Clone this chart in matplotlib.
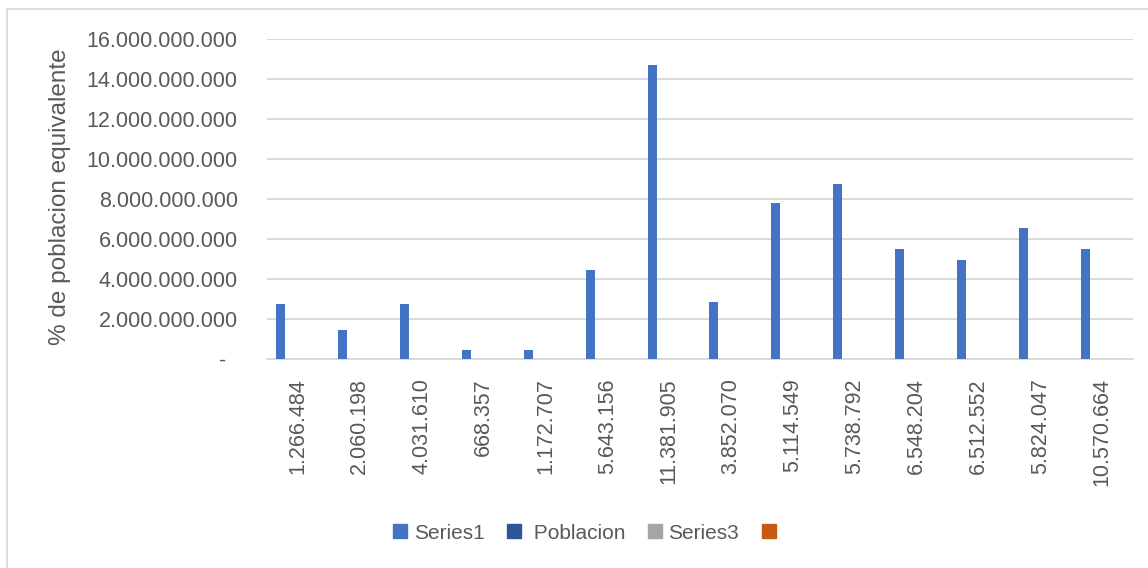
import matplotlib.pyplot as plt
import numpy as np
from matplotlib.patches import Patch, Rectangle
from matplotlib.ticker import FuncFormatter

# categorias del eje x (poblacion de cada region)
poblacion_labels = [
    "1.266.484", "2.060.198", "4.031.610", "668.357", "1.172.707",
    "5.643.156", "11.381.905", "3.852.070", "5.114.549", "5.738.792",
    "6.548.204", "6.512.552", "5.824.047", "10.570.664",
]
poblacion = [int(s.replace(".", "")) for s in poblacion_labels]

# Series1
series1 = [
    2.77e9, 1.45e9, 2.77e9, 0.43e9, 0.45e9,
    4.43e9, 14.71e9, 2.83e9, 7.82e9, 8.76e9,
    5.50e9, 4.97e9, 6.57e9, 5.48e9,
]

yticks = np.arange(0, 16e9 + 1, 2e9)

BLUE = "#4472C4"
DARK_BLUE = "#2F5597"
GRAY = "#A5A5A5"
ORANGE = "#C55A11"
TEXT = "#595959"
GRID = "#D9D9D9"

plt.rcParams["font.family"] = ["Liberation Sans", "DejaVu Sans"]

fig = plt.figure(figsize=(11.48, 5.68), dpi=100)
ax = fig.add_axes([0.2326, 0.368, 0.7544, 0.5633])

x = np.arange(len(poblacion_labels))
w = 0.145
ax.bar(x - 0.275, series1, width=w, color=BLUE, zorder=3)
ax.bar(x - 0.275 + w, poblacion, width=w, color=DARK_BLUE, zorder=3)

ax.set_xlim(-0.5, len(x) - 0.5)
ax.set_ylim(0, 16e9)
ax.set_yticks(yticks)
ax.yaxis.set_major_formatter(
    FuncFormatter(lambda v, p: "-  " if v == 0 else f"{v:,.0f}".replace(",", "."))
)
ax.set_xticks(x)
ax.set_xticklabels(poblacion_labels, rotation=90, va="top", ha="center")

ax.tick_params(axis="y", length=0, pad=21, labelsize=15.5, labelcolor=TEXT)
ax.tick_params(axis="x", length=0, pad=14, labelsize=15.5, labelcolor=TEXT)
ax.yaxis.grid(True, color=GRID, linewidth=1.4, zorder=0)
for side in ["top", "right", "left"]:
    ax.spines[side].set_visible(False)
ax.spines["bottom"].set_color(GRID)
ax.spines["bottom"].set_linewidth(1.4)

fig.text(0.052, 0.653, "% de poblacion equivalente", rotation=90,
         ha="center", va="center", fontsize=17.5, color=TEXT)

handles = [
    Patch(color=BLUE, label="Series1"),
    Patch(color=DARK_BLUE, label=" Poblacion"),
    Patch(color=GRAY, label="Series3"),
    Patch(color=ORANGE, label=""),
]
fig.legend(handles=handles, loc="center", bbox_to_anchor=(0.512, 0.0616),
           ncol=4, frameon=False, fontsize=15, labelcolor=TEXT,
           handlelength=0.67, handleheight=0.67, handletextpad=0.3,
           columnspacing=1.1)

# marco del grafico
fig.patches.append(Rectangle((0.0065, -0.05), 1.1, 1.034, transform=fig.transFigure,
                             fill=False, edgecolor=GRID, linewidth=1.3))

fig.savefig("out.png", dpi=100)
